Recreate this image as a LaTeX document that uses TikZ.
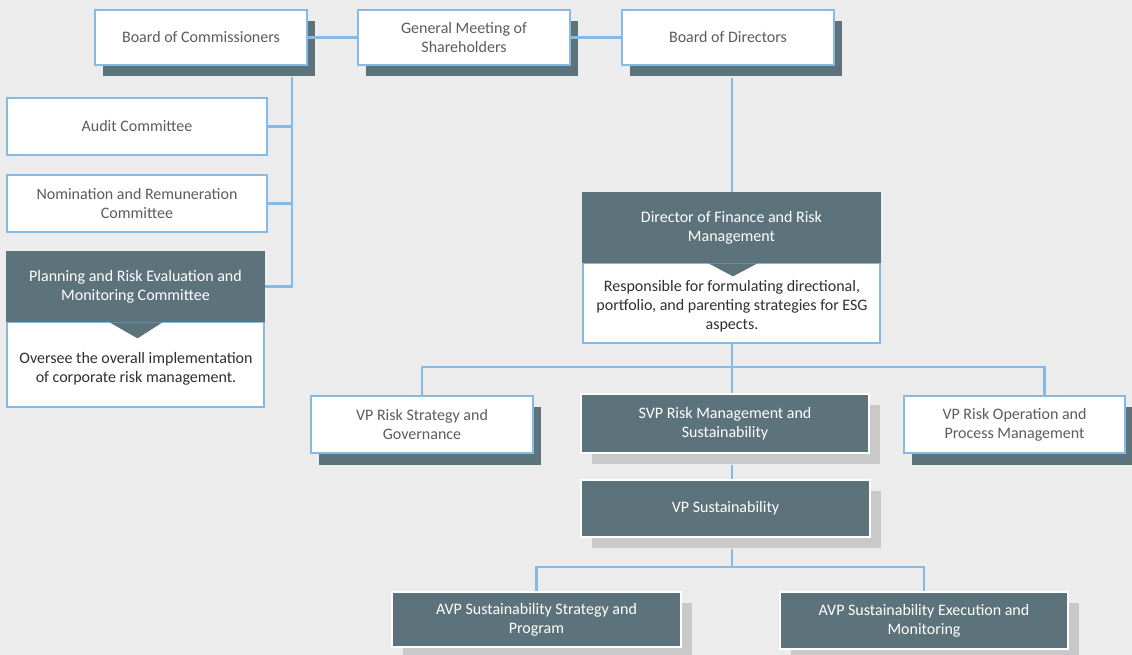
\documentclass[tikz,border=0pt]{standalone}
\usepackage{fontspec}
\setmainfont{Carlito}
\usetikzlibrary{shadows}
\definecolor{bggray}{HTML}{ECECEC}
\definecolor{slate}{HTML}{5D737B}
\definecolor{shadegray}{HTML}{C9C9C9}
\definecolor{lineblue}{HTML}{86B9E4}
\definecolor{txtgray}{HTML}{5C5C5C}
\definecolor{txtdark}{HTML}{303030}
\begin{document}
\begin{tikzpicture}[
    x=0.02cm, y=-0.02cm,
    every node/.style={font=\fontsize{9.1}{10.8}\selectfont, align=center},
    sz/.style 2 args={minimum width=#1*0.02cm, minimum height=#2*0.02cm},
    wbox/.style={rectangle, draw=lineblue, line width=1.4pt, fill=white, text=txtgray, inner sep=0pt},
    wshad/.style={wbox, drop shadow={shadow xshift=0.16cm, shadow yshift=-0.23cm, fill=slate, opacity=1}},
    dbox/.style={rectangle, draw=white, line width=1pt, fill=slate, text=white, inner sep=0pt,
        drop shadow={shadow xshift=0.22cm, shadow yshift=-0.22cm, fill=shadegray, opacity=1}},
    head/.style={rectangle, fill=slate, text=white, inner sep=0pt},
    desc/.style={text=txtdark},
    link/.style={draw=lineblue, line width=1.5pt}
]
\fill[bggray] (0,0) rectangle (1132,655);
\useasboundingbox (0,0) rectangle (1132,655);

% top row
\node[wshad, sz={212}{55}] (boc) at (201,37.5) {Board of Commissioners};
\node[wshad, sz={212}{55}] (gms) at (464,37.5) {General Meeting of\\Shareholders};
\node[wshad, sz={212}{55}] (bod) at (728,37.5) {Board of Directors};

% committees
\node[wbox, sz={260}{57}] (audit) at (137,126.5) {Audit Committee};
\node[wbox, sz={260}{57}] (nomin) at (137,203.5) {Nomination and Remuneration\\Committee};
\node[wbox, sz={257}{85}] (planb) at (135.5,364.5) {};
\node[head, sz={259}{71}] (planh) at (135.5,286.5) {Planning and Risk Evaluation and\\Monitoring Committee};
\fill[slate] ([xshift=-0.52cm]planh.south) -- ([xshift=0.54cm]planh.south) -- ([xshift=0.04cm, yshift=-0.32cm]planh.south) -- cycle;
\node[desc] (plant) at (136,369) {Oversee the overall implementation\\of corporate risk management.};

% director
\node[wbox, sz={297}{80}] (dirb) at (731.5,303) {};
\node[head, sz={299}{71}] (dirh) at (731.5,227.5) {Director of Finance and Risk\\Management};
\fill[slate] ([xshift=-0.46cm]dirh.south) -- ([xshift=0.52cm]dirh.south) -- ([xshift=0.03cm, yshift=-0.26cm]dirh.south) -- cycle;
\node[desc] (dirt) at (732,306) {Responsible for formulating directional,\\portfolio, and parenting strategies for ESG\\aspects.};

% vice presidents
\node[wshad, sz={222}{57}] (vprs) at (422,424.5) {VP Risk Strategy and\\Governance};
\node[dbox, sz={288}{59}] (svp) at (725,423.5) {SVP Risk Management and\\Sustainability};
\node[wshad, sz={221}{57}] (vpro) at (1014.5,424.5) {VP Risk Operation and\\Process Management};
\node[dbox, sz={289}{57}] (vpsus) at (725.5,508.5) {VP Sustainability};
\node[dbox, sz={289}{55}] (avps) at (536.5,619.5) {AVP Sustainability Strategy and\\Program};
\node[dbox, sz={288}{57}] (avpe) at (924,620.5) {AVP Sustainability Execution and\\Monitoring};

% connectors
\coordinate (spine) at (732,0);
\coordinate (bocbus) at (292,77);
\coordinate (bodfoot) at ([yshift=-0.24cm]bod.south);
\coordinate (svpfoot) at ([yshift=-0.22cm]svp.south);
\coordinate (vpsusfoot) at ([yshift=-0.22cm]vpsus.south);
\coordinate (vpsplit) at (732,367);
\coordinate (avpsplit) at (732,567);

\draw[link] (boc) -- (gms);
\draw[link] (gms) -- (bod);
\draw[link] (bocbus) |- (planh.east);
\draw[link] (audit.east) -- (audit.east -| bocbus);
\draw[link] (nomin.east) -- (nomin.east -| bocbus);
\draw[link] (bodfoot -| spine) -- (dirh.north -| spine);
\draw[link] (dirb.south -| spine) -- (svp.north -| spine);
\draw[link] (vprs.north) |- (vpsplit) -| ([xshift=0.6cm]vpro.north);
\draw[link] (svpfoot -| spine) -- (vpsus.north -| spine);
\draw[link] (vpsusfoot -| spine) -- (avpsplit);
\draw[link] (avps.north) |- (avpsplit) -| (avpe.north);
\end{tikzpicture}
\end{document}
